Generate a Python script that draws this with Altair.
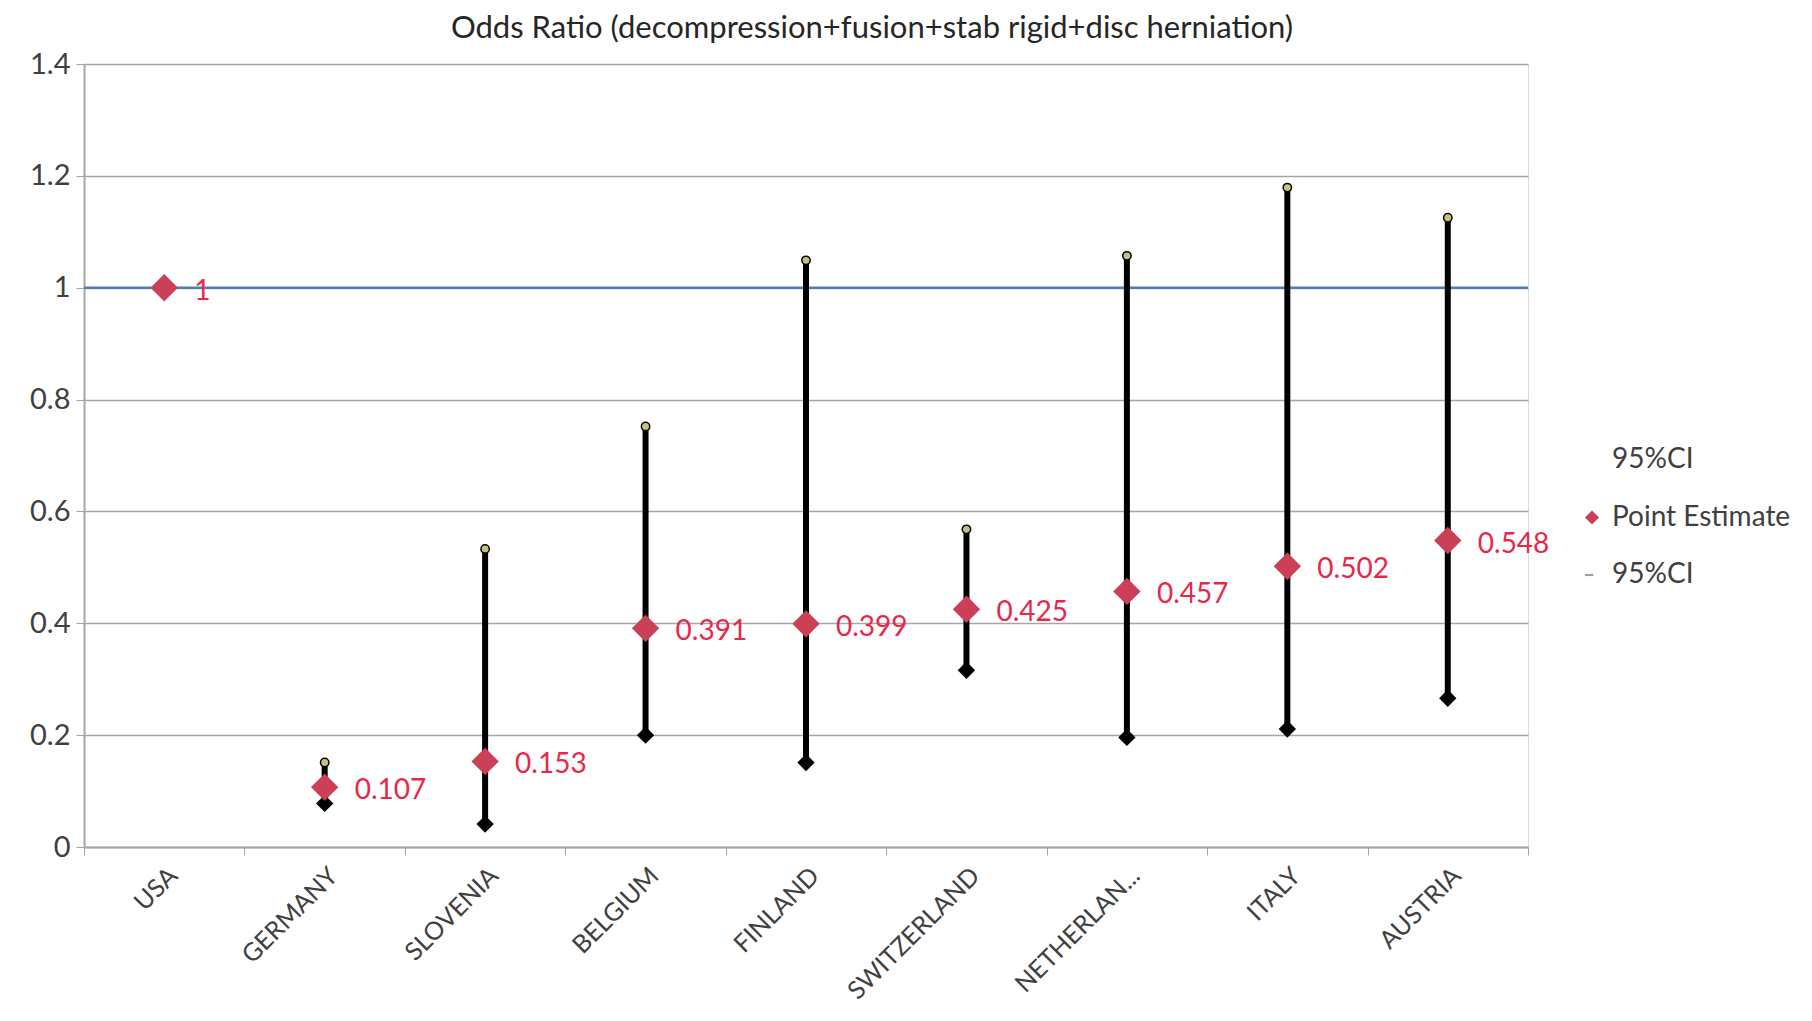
import altair as alt
import pandas as pd

countries = ["USA", "GERMANY", "SLOVENIA", "BELGIUM", "FINLAND",
             "SWITZERLAND", "NETHERLAN...", "ITALY", "AUSTRIA"]
point_est = [1.0, 0.107, 0.153, 0.391, 0.399, 0.425, 0.457, 0.502, 0.548]
ci_low = [None, 0.078, 0.041, 0.200, 0.151, 0.316, 0.196, 0.211, 0.266]
ci_high = [None, 0.151, 0.533, 0.752, 1.049, 0.568, 1.057, 1.179, 1.125]
point_labels = ["1", "0.107", "0.153", "0.391", "0.399", "0.425", "0.457", "0.502", "0.548"]
y_ticks = [0, 0.2, 0.4, 0.6, 0.8, 1.0, 1.2, 1.4]
legend_domain = ["95%CI hi", "Point Estimate", "95%CI lo"]
reference_value = 1

df = pd.DataFrame({
    "country": countries,
    "est": point_est,
    "lo": ci_low,
    "hi": ci_high,
    "label": point_labels,
    "series": ["Point Estimate"] * len(countries),
})
ci_df = df.dropna(subset=["lo"])

FONT = "Lato"
RED = "#CC4057"
LABEL_RED = "#E8284A"

x_enc = alt.X("country:N", sort=countries, title=None,
              axis=alt.Axis(labelAngle=-45, labelFontSize=25, labelColor="#404040",
                            labelFont=FONT, tickBand="extent", tickSize=8, labelLimit=0,
                            tickColor="#A6A6A6", domainColor="#A6A6A6", domainWidth=2,
                            labelPadding=8, grid=False))
y_scale = alt.Scale(domain=[0, 1.4], nice=False)
y_axis = alt.Axis(values=y_ticks, format="~g", labelFontSize=29, labelColor="#404040",
                  labelFont=FONT, tickSize=8, tickColor="#A6A6A6", domainColor="#A6A6A6",
                  domainWidth=2, grid=True, gridColor="#A6A6A6", gridWidth=1.5,
                  labelPadding=6)
x_plain = alt.X("country:N", sort=countries)

ref = alt.Chart(pd.DataFrame({"v": [reference_value]})).mark_rule(
    color="#4A7EBB", strokeWidth=2.5).encode(y=alt.Y("v:Q", scale=y_scale, axis=y_axis, title=None))

ci_rules = alt.Chart(ci_df).mark_rule(color="black", strokeWidth=6).encode(
    x=x_enc,
    y=alt.Y("lo:Q", scale=y_scale), y2="hi:Q")

lo_pts = alt.Chart(ci_df).mark_point(shape="diamond", filled=True, color="black",
                                     size=300, opacity=1).encode(
    x=x_plain, y=alt.Y("lo:Q", scale=y_scale))

hi_pts = alt.Chart(ci_df).mark_point(shape="circle", filled=True, fill="#C8C080",
                                     stroke="black", strokeWidth=1.5, size=70,
                                     opacity=1).encode(
    x=x_plain, y=alt.Y("hi:Q", scale=y_scale))

est_pts = alt.Chart(df).mark_point(filled=True, size=750, opacity=1).encode(
    x=x_enc,
    y=alt.Y("est:Q", scale=y_scale),
    color=alt.Color("series:N",
                    scale=alt.Scale(domain=legend_domain,
                                    range=["#FFFFFF", RED, "#A0A0A0"]),
                    legend=alt.Legend(title=None, orient="none", legendX=1494,
                                      legendY=382, labelFontSize=28, labelFont=FONT,
                                      labelColor="#404040", symbolSize=200,
                                      rowPadding=29.5, symbolOpacity=1, labelLimit=0,
                                      symbolStrokeWidth=0, labelOffset=6,
                                      labelExpr="datum.label == 'Point Estimate' ? 'Point Estimate' : '95%CI'")),
    shape=alt.Shape("series:N",
                    scale=alt.Scale(domain=legend_domain,
                                    range=["circle", "diamond", "M-1,-0.15H0.2V0.15H-1Z"]),
                    legend=None),
)

labels = alt.Chart(df).mark_text(align="left", baseline="middle", dx=30, dy=4,
                                 fontSize=28, font=FONT, color=LABEL_RED).encode(
    x=x_plain,
    y=alt.Y("est:Q", scale=y_scale),
    text="label:N")

chart = alt.layer(ref, ci_rules, lo_pts, hi_pts, est_pts, labels).properties(
    width=1444, height=783,
    title=alt.TitleParams("Odds Ratio (decompression+fusion+stab rigid+disc herniation)",
                          fontSize=31, font=FONT, fontWeight="normal", color="#262626",
                          anchor="middle", dx=66, offset=5),
    autosize=alt.AutoSizeParams(type="none"),
    padding={"left": 76, "top": 56, "right": 270, "bottom": 166},
).configure_view(stroke=None).configure(background="white")

chart.save("out.html", embed_options={"renderer": "svg", "actions": False})
